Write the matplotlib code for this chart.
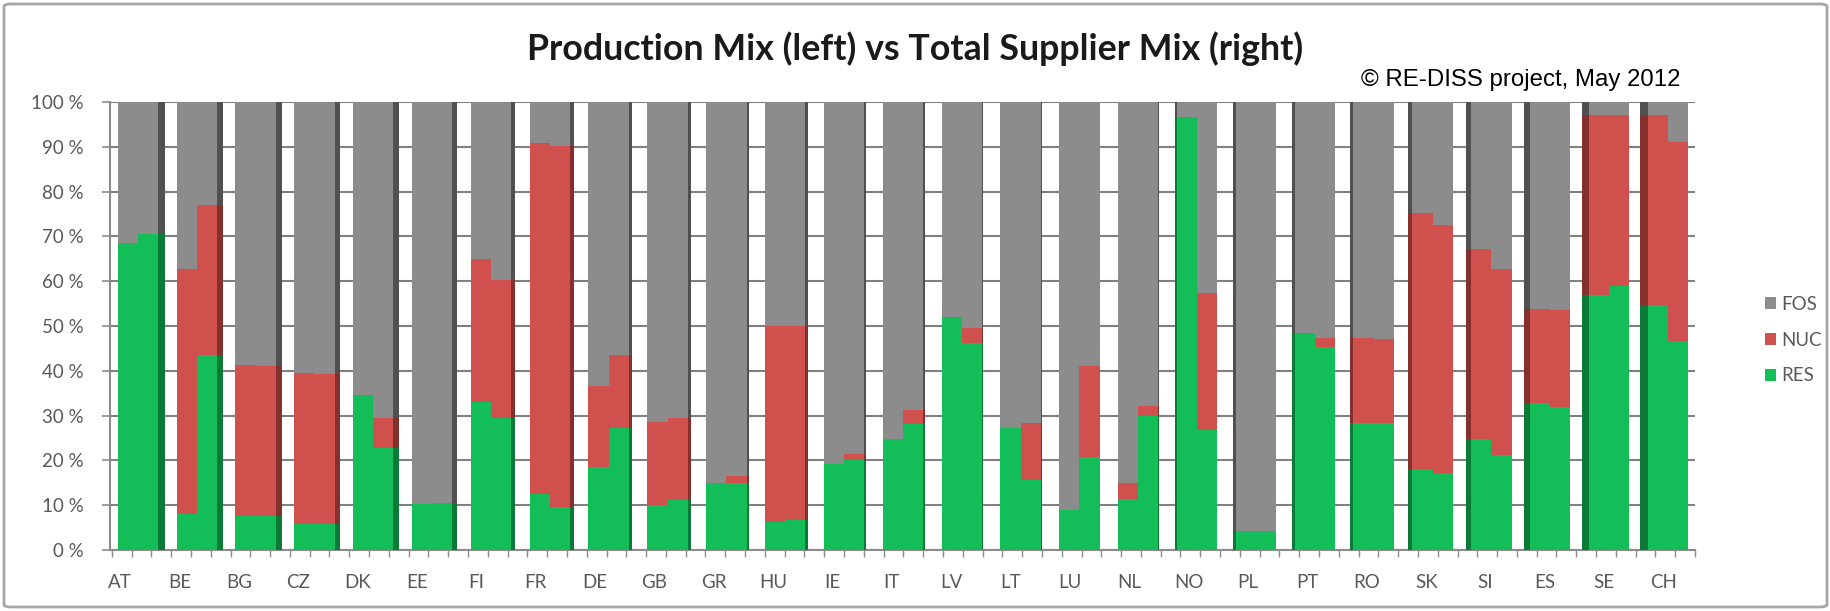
import numpy as np
import matplotlib
matplotlib.use("Agg")
import matplotlib.pyplot as plt
from matplotlib.patches import Patch, FancyBboxPatch

countries = ['AT', 'BE', 'BG', 'CZ', 'DK', 'EE', 'FI', 'FR', 'DE', 'GB', 'GR', 'HU', 'IE', 'IT',
             'LV', 'LT', 'LU', 'NL', 'NO', 'PL', 'PT', 'RO', 'SK', 'SI', 'ES', 'SE', 'CH']

# Production mix (left bar), percent
prod_res = [68.5, 8.1, 7.6, 5.9, 34.6, 10.3, 33.0, 12.4, 18.5, 10.1, 15.0, 6.3, 19.2, 24.8,
            52.0, 27.2, 8.9, 11.4, 96.7, 4.2, 48.5, 28.3, 18.1, 24.8, 32.8, 57.0, 54.7]
prod_nuc = [0.0, 54.7, 33.8, 33.5, 0.0, 0.0, 32.0, 78.5, 18.1, 18.4, 0.0, 43.7, 0.0, 0.0,
            0.0, 0.0, 0.0, 3.6, 0.0, 0.0, 0.0, 19.0, 57.1, 42.4, 21.1, 40.0, 42.3]
# Total supplier mix (right bar), percent
supp_res = [70.5, 43.5, 7.5, 5.7, 22.8, 10.5, 29.4, 9.6, 27.2, 11.1, 15.0, 6.8, 20.1, 28.1,
            46.3, 15.7, 20.7, 29.8, 26.8, 4.2, 45.4, 28.3, 17.2, 21.3, 32.0, 58.9, 46.7]
supp_nuc = [0.0, 33.6, 33.6, 33.5, 6.6, 0.0, 30.8, 80.6, 16.3, 18.3, 1.6, 43.2, 1.3, 3.2,
            3.3, 12.6, 20.4, 2.4, 30.6, 0.0, 2.0, 18.9, 55.3, 41.5, 21.5, 38.1, 44.4]

y_ticks = [0, 10, 20, 30, 40, 50, 60, 70, 80, 90, 100]
y_tick_labels = [f"{v} %" for v in y_ticks]
series_names = ['RES', 'NUC', 'FOS']
title = "Production Mix (left) vs Total Supplier Mix (right)"
credit = "\u00a9 RE-DISS project, May 2012"

col = {'RES': '#13BD58', 'NUC': '#D0504D', 'FOS': '#8C8C8C'}
dark = {'RES': '#0C7A37', 'NUC': '#84302D', 'FOS': '#505050'}

W, H = 1831, 611
fig = plt.figure(figsize=(W / 100, H / 100), dpi=100)
fig.patch.set_facecolor('white')

ax = fig.add_axes([110 / W, 1 - 550 / H, (1695 - 110) / W, (550 - 102) / H])

n = len(countries)
idx = np.arange(n)
prod_res_a = np.array(prod_res); prod_nuc_a = np.array(prod_nuc)
supp_res_a = np.array(supp_res); supp_nuc_a = np.array(supp_nuc)
prod_fos = 100 - prod_res_a - prod_nuc_a
supp_fos = 100 - supp_res_a - supp_nuc_a

bw = 0.34
shift = 0.30 - 0.23 * idx / (n - 1)         # perspective offset of the pair
centers = idx + shift
left_x = centers - bw / 2
right_x = centers + bw / 2

def stacked(x, res, nuc, fos, width, dk=False):
    c = dark if dk else col
    ax.bar(x, res, width, color=c['RES'], zorder=3, linewidth=0)
    ax.bar(x, nuc, width, bottom=res, color=c['NUC'], zorder=3, linewidth=0)
    ax.bar(x, fos, width, bottom=res + nuc, color=c['FOS'], zorder=3, linewidth=0)

stacked(left_x, prod_res_a, prod_nuc_a, prod_fos, bw)
stacked(right_x, supp_res_a, supp_nuc_a, supp_fos, bw)

# 3-D side faces
vp = 17.5
for i in range(n):
    if i < vp:
        sw = 0.11 * (vp - i) / vp
        x0 = right_x[i] + bw / 2
        stacked(np.array([x0 + sw / 2]), supp_res_a[i:i+1], supp_nuc_a[i:i+1],
                supp_fos[i:i+1], sw, dk=True)
    else:
        sw = max(0.04, 0.13 * (i - vp) / (n - 1 - vp))
        x0 = left_x[i] - bw / 2
        stacked(np.array([x0 - sw / 2]), prod_res_a[i:i+1], prod_nuc_a[i:i+1],
                prod_fos[i:i+1], sw, dk=True)

ax.set_xlim(-0.17, 26.52)
ax.set_ylim(0, 100)
ax.set_yticks(y_ticks)
ax.set_yticklabels(y_tick_labels)
ax.set_xticks(idx)
ax.set_xticklabels(countries)
ax.set_xticks(np.arange(-0.14, 26.6, 1 / 3), minor=True)

ax.yaxis.grid(True, color='#808080', linewidth=1.5, zorder=0)
ax.set_axisbelow(True)
for s in ['top', 'right']:
    ax.spines[s].set_visible(False)
ax.spines['left'].set_color('#8C8C8C')
ax.spines['bottom'].set_color('#8C8C8C')
ax.spines['left'].set_linewidth(1.5)
ax.spines['bottom'].set_linewidth(1.5)

fs = 13.5
ax.tick_params(axis='y', length=6, width=1.2, color='#8C8C8C', pad=13)
ax.tick_params(axis='x', which='major', length=0, pad=17)
ax.tick_params(axis='x', which='minor', length=5, width=1.0, color='#8C8C8C')
for t in ax.get_yticklabels() + ax.get_xticklabels():
    t.set_fontfamily(['Lato', 'DejaVu Sans'])
    t.set_fontsize(fs)
    t.set_color('#595959')

# Title and credit, scaled to match target widths
renderer = fig.canvas.get_renderer()
tt = fig.text(915 / W, 1 - 49 / H, title, ha='center', va='center',
              fontsize=22, fontweight='bold', family=['Lato', 'DejaVu Sans'], color='#1A1A1A')
w = tt.get_window_extent(renderer).width
tt.set_fontsize(22 * 775 / w)

ct = fig.text(1681 / W, 1 - 80 / H, credit, ha='right', va='center',
              fontsize=16, family=['Liberation Sans', 'DejaVu Sans'], color='black')
w = ct.get_window_extent(renderer).width
ct.set_fontsize(16 * 320 / w)

# Legend
handles = [Patch(facecolor=col[s], edgecolor='none', label=s) for s in ['FOS', 'NUC', 'RES']]
leg = fig.legend(handles=handles, loc='center left', bbox_to_anchor=(1748 / W, 1 - 340 / H),
                 frameon=False, handlelength=0.6, handleheight=0.6, handletextpad=0.3,
                 labelspacing=1.0, prop={'family': ['Lato', 'DejaVu Sans'], 'size': fs})
for t in leg.get_texts():
    t.set_color('#595959')

# Outer chart border
border = FancyBboxPatch((4 / W, 4 / H), 1 - 8 / W, 1 - 8 / H,
                        boxstyle="round,pad=0,rounding_size=0.004",
                        transform=fig.transFigure, facecolor='none',
                        edgecolor='#A6A6A6', linewidth=2.0)
fig.patches.append(border)

fig.savefig('out.png', dpi=100, facecolor='white')
